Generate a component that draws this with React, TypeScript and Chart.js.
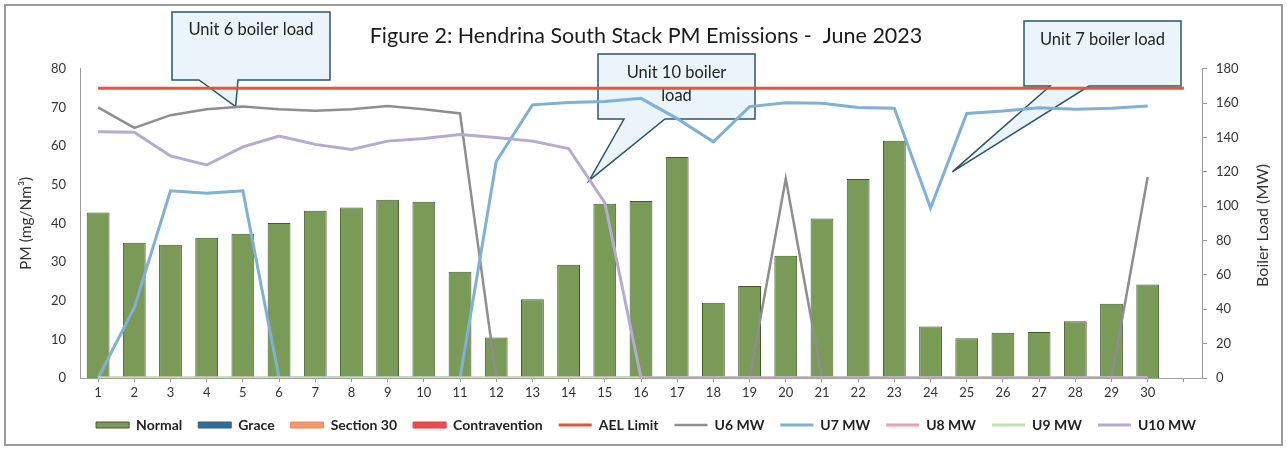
import React, { useEffect, useRef } from 'react';
import { Chart, registerables } from 'chart.js';

Chart.register(...registerables);

const dayLabels = ['1', '2', '3', '4', '5', '6', '7', '8', '9', '10', '11', '12', '13', '14', '15', '16', '17', '18', '19', '20', '21', '22', '23', '24', '25', '26', '27', '28', '29', '30', ''];

const normalPM = [42.8, 35.0, 34.5, 36.3, 37.3, 40.1, 43.3, 44.1, 46.1, 45.6, 27.5, 10.5, 20.4, 29.3, 45.1, 45.8, 57.2, 19.5, 23.8, 31.6, 41.3, 51.5, 61.4, 13.3, 10.3, 11.7, 11.9, 14.7, 19.2, 24.2];
const gracePM: number[] = [];
const section30PM: number[] = [];
const contraventionPM: number[] = [];
const aelLimit = [75, 75, 75, 75, 75, 75, 75, 75, 75, 75, 75, 75, 75, 75, 75, 75, 75, 75, 75, 75, 75, 75, 75, 75, 75, 75, 75, 75, 75, 75, 75];

const u6MW = [157.5, 145.6, 153, 156.4, 158, 156.4, 155.6, 156.4, 158.3, 156.4, 154, 0, 0, 0, 0, 0, 0, 0, 0, 116, 0, 0, 0, 0, 0, 0, 0, 0, 0, 117];
const u7MW = [0, 41, 109, 107.5, 109, 0, 0, 0, 0, 0, 0, 126, 159, 160.4, 161, 162.8, 151, 137.5, 158, 160.3, 160, 157.5, 157, 99, 154, 155.4, 157.3, 156.4, 157, 158.3];
const u8MW = [0, 0, 0, 0, 0, 0, 0, 0, 0, 0, 0, 0, 0, 0, 0, 0, 0, 0, 0, 0, 0, 0, 0, 0, 0, 0, 0, 0, 0, 0];
const u9MW = [0, 0, 0, 0, 0, 0, 0, 0, 0, 0, 0, 0, 0, 0, 0, 0, 0, 0, 0, 0, 0, 0, 0, 0, 0, 0, 0, 0, 0, 0];
const u10MW = [143.3, 143, 129.3, 124, 134.6, 140.8, 136, 133, 137.9, 139.4, 141.8, 140, 137.9, 133.6, 102, 0, 0, 0, 0, 0, 0, 0, 0, 0, 0, 0, 0, 0, 0, 0];

// Callout annotations: text, box (px), tail base x's (px), tip in data space [category index, MW]
const callouts = [
  { lines: ['Unit 6 boiler load'], box: [172, 12, 158, 68], base: [199, 238], tip: [3.8, 158], textY: 30 },
  { lines: ['Unit 10 boiler', 'load'], box: [598, 54, 157, 65], base: [624, 665], tip: [13.57, 115], textY: 73 },
  { lines: ['Unit 7 boiler load'], box: [1024, 21, 157, 65], base: [1050, 1089], tip: [23.6, 120], textY: 40 },
];

const FONT = 'Lato';

const decorPlugin = {
  id: 'decor',
  beforeLayout(chart: any) {
    const lg = chart.legend;
    if (lg && !lg.__patched) {
      const orig = lg.fit.bind(lg);
      lg.fit = function () {
        orig();
        this.height = 48;
      };
      lg.__patched = true;
    }
  },
  beforeDraw(chart: any) {
    const ctx = chart.ctx;
    ctx.save();
    ctx.fillStyle = '#ffffff';
    ctx.fillRect(0, 0, chart.width, chart.height);
    ctx.strokeStyle = '#9a9a9a';
    ctx.lineWidth = 2;
    ctx.strokeRect(5, 5, chart.width - 10, chart.height - 10);
    ctx.restore();
  },
  beforeDatasetsDraw(chart: any) {
    const ctx = chart.ctx;
    const xs = chart.scales.x;
    const ys = chart.scales.y2;
    ctx.save();
    for (const c of callouts) {
      const [bx, by, bw, bh] = c.box;
      const tx = xs.getPixelForValue(c.tip[0]);
      const ty = ys.getPixelForValue(c.tip[1]);
      const [b1, b2] = c.base;
      const bottom = by + bh;
      ctx.beginPath();
      ctx.moveTo(bx, by);
      ctx.lineTo(bx + bw, by);
      ctx.lineTo(bx + bw, bottom);
      ctx.lineTo(b2, bottom);
      ctx.lineTo(tx, ty);
      ctx.lineTo(b1, bottom);
      ctx.lineTo(bx, bottom);
      ctx.closePath();
      ctx.fillStyle = '#EAF4FA';
      ctx.fill();
      ctx.strokeStyle = '#2B5566';
      ctx.lineWidth = 1.5;
      ctx.stroke();
      ctx.fillStyle = '#222222';
      ctx.font = `16.5px ${FONT}`;
      ctx.textAlign = 'center';
      ctx.textBaseline = 'middle';
      c.lines.forEach((t, i) => ctx.fillText(t, bx + bw / 2, c.textY + i * 23));
    }
    ctx.restore();
  },
  afterDraw(chart: any) {
    const ctx = chart.ctx;
    const area = chart.chartArea;
    ctx.save();
    ctx.translate(1263, (area.top + area.bottom) / 2 + 2);
    ctx.rotate(-Math.PI / 2);
    ctx.fillStyle = '#333333';
    ctx.font = `16px ${FONT}`;
    ctx.textAlign = 'center';
    ctx.textBaseline = 'middle';
    ctx.fillText('Boiler Load (MW)', 0, 0);
    ctx.restore();
  },
};

export default function App() {
  const ref = useRef<HTMLCanvasElement>(null);
  useEffect(() => {
    document.body.style.margin = '0';
    if (!ref.current) return;
    Chart.defaults.font.family = FONT;
    const barCommon = { yAxisID: 'y', grouped: false, barPercentage: 0.63, categoryPercentage: 1, borderWidth: 1, pointStyle: 'rect', order: 10 };
    const lineCommon = { type: 'line', yAxisID: 'y2', pointRadius: 0, pointHoverRadius: 0, pointStyle: 'line', tension: 0, borderWidth: 3, fill: false };
    const chart = new Chart(ref.current, {
      type: 'bar',
      data: {
        labels: dayLabels,
        datasets: [
          { ...barCommon, label: 'Normal', data: normalPM, backgroundColor: '#7A9A58', borderColor: '#44582A' },
          { ...barCommon, label: 'Grace', data: gracePM, backgroundColor: '#2F6E9A', borderColor: '#2A5F85' },
          { ...barCommon, label: 'Section 30', data: section30PM, backgroundColor: '#F09A70', borderColor: '#E88A60' },
          { ...barCommon, label: 'Contravention', data: contraventionPM, backgroundColor: '#EE4B4B', borderColor: '#E04040' },
          { ...lineCommon, label: 'AEL Limit', data: aelLimit, yAxisID: 'y', borderColor: '#F0503F', order: 0 },
          { ...lineCommon, label: 'U6 MW', data: u6MW, borderColor: '#8E8E8E', borderWidth: 2.5, order: 5 },
          { ...lineCommon, label: 'U7 MW', data: u7MW, borderColor: '#7EB0D8', order: 4 },
          { ...lineCommon, label: 'U8 MW', data: u8MW, borderColor: '#E8A0B4', order: 3 },
          { ...lineCommon, label: 'U9 MW', data: u9MW, borderColor: '#C4E0B0', order: 2 },
          { ...lineCommon, label: 'U10 MW', data: u10MW, borderColor: '#B4AAD2', order: 1 },
        ] as any,
      },
      options: {
        responsive: false,
        animation: false,
        layout: { padding: { left: 15, right: 10, top: 0, bottom: 0 } },
        plugins: {
          title: {
            display: true,
            text: 'Figure 2: Hendrina South Stack PM Emissions -  June 2023',
            color: '#1a1a1a',
            font: { family: FONT, size: 21.5, weight: 'normal', lineHeight: 1.2 },
            padding: { top: 23, bottom: 20 },
          },
          legend: {
            position: 'bottom',
            labels: {
              usePointStyle: true,
              pointStyleWidth: 33,
              boxHeight: 6,
              padding: 16,
              color: '#222222',
              font: { family: FONT, size: 14, weight: 'bold' },
              sort: (a: any, b: any) => a.datasetIndex - b.datasetIndex,
            },
          },
          tooltip: { enabled: false },
        },
        scales: {
          x: {
            type: 'category',
            offset: true,
            grid: { display: true, drawOnChartArea: false, offset: false, tickLength: 4, color: '#999999' },
            border: { display: true, color: '#a0a0a0', width: 1 },
            ticks: { autoSkip: false, maxRotation: 0, padding: 3, color: '#333333', font: { family: FONT, size: 13 } },
            afterFit: (s: any) => { s.height = 24; },
          },
          y: {
            position: 'left',
            min: 0,
            max: 80,
            grid: { display: false, drawTicks: false },
            border: { display: true, color: '#999999', width: 1 },
            ticks: { stepSize: 10, padding: 14, color: '#333333', font: { family: FONT, size: 13 } },
            title: { display: true, text: 'PM (mg/Nm³)', color: '#333333', font: { family: FONT, size: 15.5 }, padding: { top: 2, bottom: 2 } },
            afterFit: (s: any) => { s.width = 65; },
          },
          y2: {
            position: 'right',
            min: 0,
            max: 180,
            grid: { display: true, drawOnChartArea: false, drawTicks: true, tickLength: 5, color: '#999999' },
            border: { display: true, color: '#999999', width: 1 },
            ticks: { stepSize: 20, padding: 9, color: '#333333', font: { family: FONT, size: 13 } },
            afterFit: (s: any) => { s.width = 75; },
          },
        },
      } as any,
      plugins: [decorPlugin],
    });
    return () => chart.destroy();
  }, []);
  return (
    <div style={{ width: 1287, height: 450 }}>
      <canvas ref={ref} width={1287} height={450} />
    </div>
  );
}
